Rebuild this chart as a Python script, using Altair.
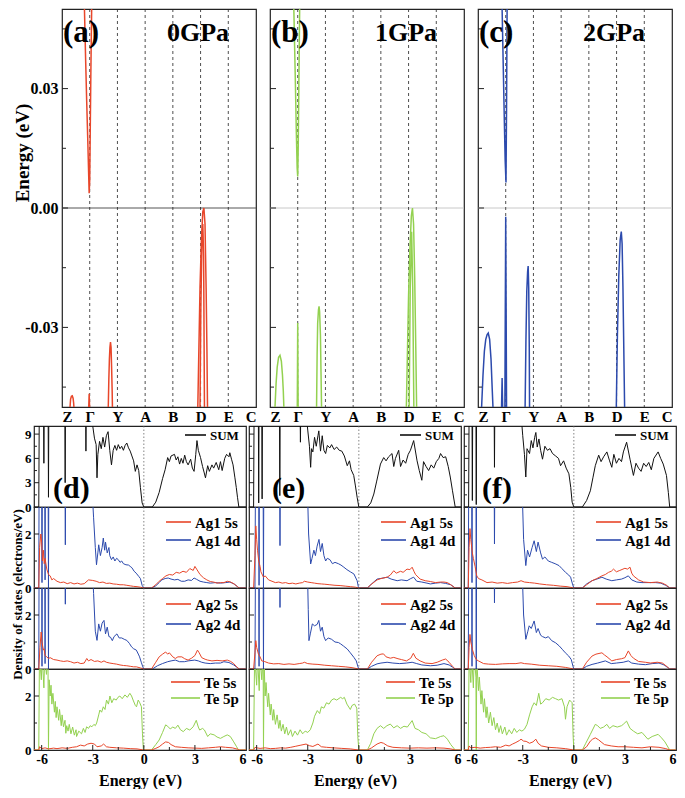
import json
import altair as alt
import pandas as pd

SERIF = "Liberation Serif"
RED = "#e8462a"
BLUE = "#2c4aad"
GREEN = "#93d150"
BLACK = "#111111"

K_LABELS = ["Z", "Γ", "Y", "A", "B", "D", "E", "C"]
PRESSURES = ["0GPa", "1GPa", "2GPa"]
BAND_TAGS = ["(a)", "(b)", "(c)"]
DOS_TAGS = ["(d)", "(e)", "(f)"]
BAND_COLORS = [RED, GREEN, BLUE]
ZERO_COLORS = ["#555555", "#c8c8c8", "#c8c8c8"]
E_TICKS = [-0.03, 0.0, 0.03]
E_MINOR = [-0.045, -0.015, 0.015, 0.045]

# ---- band segments: (k positions, energies) ----
BANDS_0GPA = [
    ([0.81, 0.85, 0.89, 0.93, 0.96, 0.98, 1.0, 1.02, 1.04, 1.07],
     [0.05, 0.038, 0.027, 0.017, 0.009, 0.0037, 0.007, 0.02, 0.033, 0.05]),
    ([4.90, 4.94, 4.98, 5.03, 5.08, 5.12, 5.16, 5.20, 5.23, 5.25],
     [-0.05, -0.035, -0.02, -0.008, -0.001, 0.0, -0.004, -0.02, -0.036, -0.05]),
    ([4.98, 5.01, 5.05, 5.08, 5.11, 5.14],
     [-0.05, -0.025, -0.008, -0.004, -0.012, -0.05]),
    ([1.67, 1.69, 1.71, 1.73, 1.75, 1.77, 1.79, 1.81, 1.82],
     [-0.05, -0.043, -0.038, -0.035, -0.0337, -0.035, -0.04, -0.046, -0.05]),
    ([0.29, 0.31, 0.34, 0.37, 0.40, 0.42, 0.43],
     [-0.05, -0.048, -0.0473, -0.0472, -0.0478, -0.049, -0.05]),
    ([0.965, 0.98, 0.995], [-0.05, -0.0467, -0.05]),
]
BANDS_1GPA = [
    ([0.86, 0.89, 0.92, 0.95, 0.98, 1.0, 1.02, 1.04, 1.07],
     [0.05, 0.04, 0.03, 0.019, 0.01, 0.0079, 0.016, 0.03, 0.05]),
    ([0.985, 1.0, 1.015], [-0.05, -0.0289, -0.05]),
    ([1.68, 1.70, 1.72, 1.75, 1.77, 1.79, 1.82, 1.84, 1.86],
     [-0.05, -0.037, -0.029, -0.0255, -0.0247, -0.026, -0.032, -0.041, -0.05]),
    ([0.18, 0.22, 0.26, 0.31, 0.36, 0.41, 0.45, 0.48, 0.5],
     [-0.05, -0.044, -0.04, -0.0375, -0.037, -0.0385, -0.042, -0.046, -0.05]),
    ([4.92, 4.96, 5.0, 5.05, 5.10, 5.14, 5.18, 5.22, 5.26, 5.29],
     [-0.05, -0.036, -0.022, -0.01, -0.002, 0.0, -0.004, -0.017, -0.035, -0.05]),
    ([5.02, 5.06, 5.11, 5.15, 5.19],
     [-0.05, -0.02, -0.006, -0.02, -0.05]),
]
BANDS_2GPA = [
    ([0.87, 0.91, 0.95, 0.98, 1.01, 1.03, 1.05],
     [0.05, 0.036, 0.022, 0.012, 0.0064, 0.025, 0.05]),
    ([0.97, 0.985, 1.0, 1.015, 1.03], [-0.05, -0.025, -0.0022, -0.025, -0.05]),
    ([0.85, 0.87, 0.89], [-0.05, -0.0427, -0.05]),
    ([1.70, 1.73, 1.76, 1.79, 1.81, 1.83, 1.85, 1.86],
     [-0.05, -0.033, -0.021, -0.016, -0.0146, -0.02, -0.035, -0.05]),
    ([0.13, 0.18, 0.23, 0.28, 0.33, 0.37, 0.42, 0.47, 0.51, 0.54],
     [-0.05, -0.042, -0.036, -0.033, -0.0318, -0.0314, -0.033, -0.038, -0.045, -0.05]),
    ([4.99, 5.03, 5.08, 5.13, 5.17, 5.20, 5.23, 5.26, 5.29],
     [-0.05, -0.032, -0.017, -0.008, -0.0059, -0.009, -0.02, -0.035, -0.05]),
]
BANDS = [BANDS_0GPA, BANDS_1GPA, BANDS_2GPA]

# ---- DOS series: (energy eV, states/eV) ----
SUM_D = [(-6.45,0),(-6.17,0),(-6.14,12),(-5.89,12),(-5.87,5.4),(-5.85,12),(-5.62,12),(-5.6,1.2),(-5.58,12),
         (-4.64,12),(-4.62,3.0),(-4.6,12),(-3.42,12),(-3.4,6.9),(-3.38,12),(-3.1,12),(-3.0,10.0),(-2.9,8.5),
         (-2.8,7.7),(-2.75,3.6),(-2.7,6.5),(-2.6,8.1),(-2.5,7.2),(-2.4,8.6),(-2.3,7.4),(-2.2,8.8),(-2.1,9.3),
         (-2.0,7.0),(-1.9,5.2),(-1.8,7.0),(-1.7,7.6),(-1.6,7.0),(-1.5,7.7),(-1.4,7.2),(-1.3,7.5),(-1.2,7.0),
         (-1.1,7.6),(-1.0,7.9),(-0.9,7.3),(-0.8,6.9),(-0.7,6.3),(-0.6,5.7),(-0.5,4.4),(-0.4,5.2),(-0.3,4.5),
         (-0.2,2.4),(-0.1,0.5),(0.0,0.0),(0.5,0.0),(0.7,0.6),(0.9,1.8),(1.1,3.5),(1.25,4.6),(1.4,6.1),(1.5,5.6),
         (1.6,6.3),(1.8,6.5),(1.9,5.8),(2.0,6.2),(2.1,5.3),(2.2,6.0),(2.3,5.4),(2.4,6.4),(2.5,5.6),(2.6,5.2),
         (2.75,5.9),(2.85,4.8),(2.95,4.4),(3.05,6.5),(3.12,8.2),(3.2,7.0),(3.33,6.1),(3.45,5.0),(3.55,4.2),
         (3.62,3.6),(3.75,5.1),(3.85,4.4),(4.0,5.2),(4.1,4.8),(4.25,5.5),(4.4,4.6),(4.5,5.6),(4.6,4.5),(4.75,6.0),
         (4.86,6.5),(5.0,6.2),(5.05,6.7),(5.15,5.9),(5.24,5.2),(5.35,3.6),(5.43,2.4),(5.5,1.2),(5.58,0),(6.0,0)]
AG1S_D = [(-6.45,0),(-6.17,0),(-6.12,1.5),(-6.05,2.0),(-6.0,1.7),(-5.95,1.0),(-5.9,1.4),(-5.85,0.9),(-5.8,1.1),
          (-5.7,0.7),(-5.6,0.5),(-5.5,0.45),(-5.4,0.3),(-5.3,0.35),(-5.1,0.25),(-4.9,0.2),(-4.7,0.22),(-4.5,0.16),
          (-4.3,0.2),(-4.1,0.15),(-3.9,0.18),(-3.7,0.14),(-3.5,0.16),(-3.25,0.3),(-3.0,0.28),(-2.8,0.25),(-2.6,0.2),
          (-2.4,0.22),(-2.2,0.17),(-2.0,0.18),(-1.8,0.15),(-1.6,0.14),(-1.4,0.12),(-1.2,0.12),(-1.0,0.1),(-0.8,0.08),
          (-0.6,0.06),(-0.4,0.05),(-0.2,0.03),(0.0,0.0),(0.45,0.0),(0.7,0.12),(0.9,0.25),(1.1,0.35),(1.3,0.45),
          (1.5,0.5),(1.7,0.48),(1.9,0.58),(2.1,0.55),(2.3,0.62),(2.5,0.58),(2.7,0.72),(2.9,0.65),(3.0,0.8),(3.1,0.7),
          (3.3,0.5),(3.5,0.38),(3.7,0.3),(3.9,0.24),(4.1,0.22),(4.3,0.18),(4.5,0.2),(4.7,0.2),(4.9,0.25),(5.1,0.22),
          (5.3,0.15),(5.5,0.05),(5.6,0.0),(6.0,0.0)]
AG1D_D = [(-6.45,0),(-6.17,0),(-6.15,4),(-6.0,4),(-5.98,0.2),(-5.96,4),(-5.82,4),(-5.8,0.3),(-5.78,4),(-5.62,4),
          (-5.6,0.0),(-5.58,4),(-4.63,4),(-4.61,1.6),(-4.59,4),(-3.07,4),(-2.95,2.6),(-2.85,1.5),(-2.78,0.86),
          (-2.7,1.3),(-2.65,1.6),(-2.55,1.2),(-2.45,1.5),(-2.38,1.85),(-2.3,1.4),(-2.25,1.7),(-2.15,1.3),(-2.05,1.5),
          (-2.0,1.2),(-1.9,1.05),(-1.8,1.15),(-1.7,1.0),(-1.6,1.1),(-1.5,1.05),(-1.4,0.95),(-1.3,1.0),(-1.2,0.9),
          (-1.05,0.86),(-0.9,0.85),(-0.8,0.8),(-0.7,0.75),(-0.57,0.62),(-0.45,0.55),(-0.3,0.43),(-0.2,0.35),
          (-0.1,0.1),(0.0,0.0),(0.45,0.0),(0.7,0.08),(0.9,0.2),(1.05,0.3),(1.25,0.35),(1.43,0.37),(1.6,0.33),
          (1.8,0.3),(2.0,0.32),(2.2,0.25),(2.4,0.25),(2.6,0.3),(2.8,0.28),(2.95,0.37),(3.1,0.32),(3.3,0.25),
          (3.5,0.22),(3.7,0.2),(3.9,0.18),(4.2,0.2),(4.5,0.18),(4.8,0.2),(5.05,0.22),(5.3,0.15),(5.5,0.05),
          (5.6,0.0),(6.0,0.0)]
AG2S_D = [(-6.45,0),(-6.17,0),(-6.1,0.8),(-6.03,1.37),(-5.98,1.0),(-5.9,0.7),(-5.86,0.75),(-5.8,0.5),(-5.7,0.45),
          (-5.6,0.39),(-5.5,0.42),(-5.3,0.35),(-5.1,0.33),(-4.9,0.3),(-4.7,0.28),(-4.5,0.3),(-4.3,0.27),(-4.1,0.22),
          (-3.9,0.25),(-3.7,0.2),(-3.5,0.22),(-3.35,0.39),(-3.25,0.3),(-3.1,0.35),(-2.9,0.28),(-2.7,0.3),(-2.5,0.25),
          (-2.34,0.3),(-2.2,0.25),(-2.0,0.22),(-1.8,0.2),(-1.6,0.18),(-1.4,0.15),(-1.2,0.13),(-1.0,0.12),(-0.8,0.1),
          (-0.6,0.08),(-0.44,0.08),(-0.2,0.04),(0.0,0.0),(0.45,0.0),(0.7,0.25),(0.9,0.45),(1.1,0.55),(1.28,0.63),
          (1.4,0.55),(1.5,0.6),(1.7,0.45),(1.85,0.39),(2.0,0.45),(2.23,0.45),(2.4,0.38),(2.6,0.33),(2.8,0.4),
          (3.0,0.5),(3.15,0.7),(3.25,0.6),(3.4,0.42),(3.6,0.36),(3.75,0.33),(4.0,0.3),(4.3,0.32),(4.6,0.3),
          (4.9,0.33),(5.1,0.28),(5.28,0.2),(5.45,0.08),(5.6,0.0),(6.0,0.0)]
AG2D_D = [(-6.45,0),(-6.17,0),(-6.15,4),(-6.0,4),(-5.98,0.1),(-5.96,4),(-5.82,4),(-5.8,0.2),(-5.78,4),(-5.62,4),
          (-5.6,0.0),(-5.58,4),(-4.63,4),(-4.61,2.4),(-4.59,4),(-3.05,4),(-2.95,2.8),(-2.85,1.4),(-2.75,1.06),
          (-2.65,1.67),(-2.55,1.4),(-2.45,1.7),(-2.34,1.8),(-2.25,1.3),(-2.15,1.55),(-2.05,1.2),(-1.96,1.18),
          (-1.85,1.05),(-1.75,1.2),(-1.58,1.3),(-1.45,1.15),(-1.3,1.15),(-1.15,1.1),(-1.0,1.06),(-0.85,0.95),
          (-0.72,0.82),(-0.6,0.75),(-0.44,0.7),(-0.3,0.52),(-0.25,0.45),(-0.15,0.25),(-0.06,0.08),(0.0,0.0),
          (0.5,0.0),(0.8,0.12),(1.09,0.2),(1.4,0.27),(1.6,0.3),(1.85,0.33),(2.1,0.27),(2.38,0.27),(2.6,0.3),
          (2.99,0.33),(3.2,0.3),(3.4,0.25),(3.6,0.22),(3.9,0.2),(4.2,0.22),(4.5,0.22),(4.7,0.27),(5.0,0.24),
          (5.28,0.15),(5.5,0.05),(5.6,0.0),(6.0,0.0)]
TE5S_D = [(-6.45,0),(-6.17,0),(-6.12,0.12),(-6.0,0.05),(-5.8,0.08),(-5.6,0.04),(-5.3,0.07),(-5.1,0.05),(-4.8,0.08),
          (-4.5,0.06),(-4.2,0.1),(-3.95,0.12),(-3.72,0.18),(-3.5,0.15),(-3.3,0.22),(-3.1,0.25),(-2.9,0.22),
          (-2.75,0.12),(-2.5,0.15),(-2.36,0.22),(-2.2,0.12),(-2.0,0.1),(-1.6,0.08),(-1.2,0.07),(-0.8,0.05),
          (-0.4,0.04),(0.0,0.0),(0.45,0.0),(0.7,0.06),(0.9,0.12),(1.1,0.22),(1.28,0.3),(1.45,0.28),(1.6,0.2),
          (1.85,0.12),(2.2,0.1),(2.6,0.08),(3.0,0.07),(3.4,0.06),(3.8,0.08),(4.2,0.1),(4.5,0.12),(4.8,0.1),
          (5.2,0.08),(5.5,0.03),(5.6,0.0),(6.0,0.0)]
TE5P_D = [(-6.45,0),(-6.17,0),(-6.13,3.5),(-6.02,2.6),(-5.97,3.5),(-5.87,2.3),(-5.82,3.5),(-5.72,2.8),(-5.63,3.5),
          (-5.6,0.0),(-5.56,2.6),(-5.5,2.0),(-5.45,2.4),(-5.4,1.7),(-5.34,2.1),(-5.25,1.4),(-5.2,1.8),(-5.15,1.2),
          (-5.1,1.6),(-5.0,1.1),(-4.95,1.5),(-4.85,0.9),(-4.8,1.3),(-4.72,0.86),(-4.63,1.1),(-4.58,0.62),
          (-4.53,0.9),(-4.45,0.7),(-4.38,0.95),(-4.28,0.6),(-4.18,0.85),(-4.08,0.55),(-3.98,0.75),(-3.95,0.5),
          (-3.82,0.7),(-3.66,0.6),(-3.55,0.8),(-3.45,0.65),(-3.36,0.86),(-3.25,0.8),(-3.15,0.9),(-3.05,0.86),
          (-2.93,0.95),(-2.85,0.9),(-2.77,1.0),(-2.65,1.3),(-2.58,1.48),(-2.48,1.4),(-2.38,1.6),(-2.28,1.5),
          (-2.19,1.85),(-2.08,1.7),(-1.99,2.0),(-1.88,1.75),(-1.77,1.9),(-1.62,1.85),(-1.52,1.95),(-1.41,2.0),
          (-1.27,1.9),(-1.11,2.04),(-0.97,1.95),(-0.82,2.1),(-0.72,2.0),(-0.63,1.85),(-0.5,1.65),(-0.43,1.6),
          (-0.33,1.85),(-0.24,1.75),(-0.14,1.6),(-0.08,0.6),(-0.03,0.05),(0.0,0.0),(0.45,0.0),(0.7,0.2),(0.9,0.37),
          (1.1,0.65),(1.28,0.93),(1.4,0.88),(1.55,0.78),(1.7,0.85),(1.85,0.8),(2.0,0.92),(2.15,0.75),(2.32,0.68),
          (2.5,0.8),(2.7,0.74),(2.9,0.86),(3.08,1.1),(3.2,0.85),(3.28,0.74),(3.45,0.8),(3.56,0.74),(3.75,0.5),
          (3.9,0.6),(4.13,0.56),(4.3,0.48),(4.5,0.43),(4.7,0.5),(4.9,0.56),(5.08,0.5),(5.28,0.3),(5.45,0.12),
          (5.56,0.0),(6.0,0.0)]

SUM_E = [(-6.45,0),(-6.18,0),(-6.15,12),(-5.9,12),(-5.88,0.5),(-5.86,12),(-5.7,12),(-5.68,1.0),(-5.66,12),
         (-4.66,12),(-4.64,1.4),(-4.62,12),(-3.45,12),(-3.43,8.0),(-3.41,12),(-3.12,12),(-3.0,9.5),(-2.9,7.5),
         (-2.83,4.9),(-2.78,7.2),(-2.7,6.8),(-2.6,8.6),(-2.5,7.5),(-2.4,8.8),(-2.35,9.4),(-2.25,6.9),(-2.15,8.8),
         (-2.05,7.0),(-1.95,6.6),(-1.85,7.6),(-1.7,7.3),(-1.6,7.7),(-1.45,7.1),(-1.3,7.4),(-1.15,7.0),(-1.0,6.9),
         (-0.85,6.3),(-0.68,5.1),(-0.55,5.7),(-0.45,4.6),(-0.3,3.9),(-0.2,2.6),(-0.1,1.2),(0.0,0.0),(0.5,0.0),
         (0.7,0.5),(0.88,1.6),(1.05,3.2),(1.27,5.3),(1.46,6.1),(1.6,5.7),(1.75,6.2),(1.95,6.6),(2.05,5.0),
         (2.15,6.0),(2.34,7.0),(2.45,5.0),(2.6,5.8),(2.75,5.4),(2.9,6.5),(3.03,7.0),(3.22,8.2),(3.42,5.7),
         (3.55,4.5),(3.7,3.3),(3.8,5.6),(3.95,5.0),(4.1,4.5),(4.25,5.2),(4.4,4.8),(4.55,5.6),(4.7,6.0),(4.8,6.6),
         (4.95,6.1),(5.1,6.2),(5.25,5.0),(5.37,3.7),(5.5,2.0),(5.66,0.0),(6.0,0.0)]
AG1S_E = [(-6.45,0),(-6.18,0),(-6.1,1.2),(-6.05,2.3),(-6.0,1.8),(-5.95,1.4),(-5.88,1.0),(-5.8,0.8),(-5.75,0.6),
          (-5.6,0.4),(-5.5,0.45),(-5.3,0.3),(-5.1,0.25),(-4.9,0.2),(-4.7,0.22),(-4.5,0.18),(-4.3,0.2),(-4.1,0.16),
          (-3.9,0.18),(-3.7,0.15),(-3.5,0.18),(-3.3,0.2),(-3.2,0.25),(-3.0,0.22),(-2.8,0.2),(-2.6,0.18),(-2.4,0.16),
          (-2.2,0.15),(-2.0,0.14),(-1.7,0.12),(-1.4,0.1),(-1.1,0.09),(-0.8,0.07),(-0.5,0.05),(-0.2,0.03),(0.0,0.0),
          (0.5,0.0),(0.7,0.12),(1.07,0.3),(1.3,0.35),(1.66,0.4),(1.85,0.48),(2.05,0.64),(2.2,0.55),(2.45,0.62),
          (2.6,0.58),(2.83,0.7),(3.0,0.68),(3.13,0.77),(3.25,0.6),(3.33,0.5),(3.6,0.33),(3.9,0.27),(4.2,0.24),
          (4.5,0.2),(4.8,0.22),(5.0,0.22),(5.2,0.2),(5.4,0.12),(5.66,0.0),(6.0,0.0)]
AG1D_E = [(-6.45,0),(-6.1,0),(-6.07,4),(-5.88,4),(-5.86,0.1),(-5.84,4),(-5.62,4),(-5.6,0.0),(-5.58,4),(-4.65,4),
          (-4.63,1.57),(-4.61,4),(-3.03,4),(-2.95,2.0),(-2.83,0.89),(-2.75,1.1),(-2.64,1.4),(-2.55,1.2),(-2.45,1.55),
          (-2.34,1.8),(-2.25,1.35),(-2.15,1.65),(-2.05,1.2),(-1.95,1.0),(-1.85,1.1),(-1.7,1.05),(-1.55,0.9),
          (-1.4,0.95),(-1.2,0.9),(-1.05,0.85),(-0.88,0.77),(-0.7,0.68),(-0.5,0.6),(-0.29,0.52),(-0.1,0.27),
          (-0.03,0.05),(0.0,0.0),(0.5,0.0),(0.75,0.15),(1.07,0.33),(1.35,0.36),(1.66,0.4),(1.9,0.33),(2.25,0.27),
          (2.5,0.3),(2.83,0.27),(3.05,0.35),(3.22,0.4),(3.4,0.25),(3.7,0.22),(4.0,0.18),(4.2,0.15),(4.5,0.18),
          (4.8,0.2),(5.1,0.17),(5.4,0.12),(5.66,0.0),(6.0,0.0)]
AG2S_E = [(-6.45,0),(-6.18,0),(-6.1,0.6),(-6.05,1.05),(-6.0,0.8),(-5.9,0.56),(-5.8,0.45),(-5.7,0.3),(-5.55,0.28),
          (-5.3,0.22),(-5.0,0.19),(-4.7,0.2),(-4.4,0.17),(-4.1,0.19),(-3.8,0.17),(-3.5,0.2),(-3.3,0.22),(-3.2,0.25),
          (-3.0,0.2),(-2.7,0.18),(-2.4,0.17),(-2.0,0.14),(-1.6,0.12),(-1.2,0.1),(-0.8,0.08),(-0.4,0.05),(0.0,0.0),
          (0.5,0.0),(0.75,0.25),(1.07,0.49),(1.3,0.55),(1.45,0.56),(1.6,0.45),(1.85,0.4),(2.05,0.43),(2.3,0.38),
          (2.5,0.35),(2.8,0.3),(3.05,0.4),(3.2,0.58),(3.35,0.4),(3.6,0.3),(3.9,0.22),(4.3,0.2),(4.6,0.25),
          (4.9,0.33),(5.1,0.37),(5.3,0.25),(5.5,0.1),(5.66,0.0),(6.0,0.0)]
AG2D_E = [(-6.45,0),(-6.1,0),(-6.07,4),(-5.88,4),(-5.86,0.1),(-5.84,4),(-5.62,4),(-5.6,0.0),(-5.58,4),(-4.65,4),
          (-4.63,2.28),(-4.61,4),(-3.03,4),(-2.97,2.2),(-2.93,1.05),(-2.85,1.3),(-2.73,1.67),(-2.6,1.6),
          (-2.45,1.65),(-2.35,1.8),(-2.25,1.4),(-2.15,1.55),(-2.05,1.2),(-1.95,1.05),(-1.8,1.15),(-1.6,1.1),
          (-1.4,1.0),(-1.2,0.98),(-1.07,0.93),(-0.9,0.85),(-0.68,0.74),(-0.5,0.6),(-0.29,0.43),(-0.15,0.3),
          (-0.05,0.08),(0.0,0.0),(0.5,0.0),(0.75,0.1),(1.07,0.19),(1.3,0.22),(1.66,0.25),(2.0,0.22),(2.4,0.2),
          (2.8,0.22),(3.13,0.25),(3.4,0.2),(3.7,0.15),(4.2,0.12),(4.6,0.14),(5.0,0.2),(5.3,0.15),(5.5,0.07),
          (5.66,0.0),(6.0,0.0)]
TE5S_E = [(-6.45,0),(-6.18,0),(-6.1,0.1),(-6.0,0.08),(-5.8,0.06),(-5.5,0.08),(-5.2,0.05),(-4.9,0.06),(-4.6,0.08),
          (-4.3,0.07),(-4.0,0.1),(-3.7,0.14),(-3.4,0.18),(-3.1,0.22),(-2.9,0.16),(-2.7,0.13),(-2.4,0.22),
          (-2.2,0.12),(-1.9,0.1),(-1.5,0.08),(-1.0,0.06),(-0.5,0.04),(0.0,0.0),(0.5,0.0),(0.75,0.08),(1.07,0.22),
          (1.3,0.28),(1.45,0.25),(1.7,0.15),(2.0,0.1),(2.5,0.08),(3.0,0.07),(3.5,0.08),(4.0,0.07),(4.5,0.08),
          (5.0,0.07),(5.4,0.04),(5.66,0.0),(6.0,0.0)]
TE5P_E = [(-6.45,0),(-6.18,0),(-6.12,3.5),(-6.0,2.4),(-5.95,3.5),(-5.85,2.2),(-5.8,3.5),(-5.7,2.6),(-5.62,3.5),
          (-5.6,0.0),(-5.56,3.2),(-5.5,2.0),(-5.45,2.5),(-5.35,1.6),(-5.3,2.1),(-5.2,1.3),(-5.15,1.7),(-5.05,1.1),
          (-5.0,1.5),(-4.9,0.95),(-4.8,1.3),(-4.7,0.8),(-4.63,1.1),(-4.55,0.7),(-4.45,0.95),(-4.35,0.6),
          (-4.25,0.85),(-4.15,0.55),(-4.0,0.75),(-3.9,0.5),(-3.75,0.7),(-3.6,0.55),(-3.45,0.75),(-3.3,0.6),
          (-3.15,0.7),(-3.0,0.65),(-2.85,0.75),(-2.7,1.0),(-2.6,1.25),(-2.44,1.46),(-2.3,1.35),(-2.2,1.6),
          (-2.05,1.55),(-1.9,1.75),(-1.75,1.7),(-1.6,1.85),(-1.46,1.9),(-1.3,1.85),(-1.07,1.95),(-0.95,1.9),
          (-0.85,1.95),(-0.7,1.7),(-0.5,1.5),(-0.4,1.65),(-0.25,1.7),(-0.12,1.55),(-0.06,0.5),(0.0,0.0),(0.5,0.0),
          (0.7,0.25),(0.88,0.6),(1.07,0.8),(1.27,0.9),(1.46,0.8),(1.65,0.9),(1.85,0.96),(2.05,0.82),(2.25,0.9),
          (2.45,0.8),(2.65,0.88),(2.85,0.85),(3.13,1.09),(3.3,0.8),(3.5,0.75),(3.7,0.65),(3.95,0.6),(4.2,0.45),
          (4.5,0.42),(4.8,0.5),(5.0,0.53),(5.2,0.4),(5.4,0.2),(5.66,0.0),(6.0,0.0)]

SUM_F = [(-6.45,0),(-6.18,0),(-6.15,12),(-5.98,12),(-5.96,0.8),(-5.94,12),(-5.75,12),(-5.73,0.3),(-5.71,12),
         (-4.68,12),(-4.66,4.9),(-4.64,12),(-3.12,12),(-3.0,8.8),(-2.9,6.5),(-2.82,3.7),(-2.75,7.2),(-2.6,6.6),
         (-2.5,8.2),(-2.4,7.3),(-2.3,8.6),(-2.23,9.2),(-2.15,7.4),(-2.05,8.4),(-1.95,7.0),(-1.84,5.9),(-1.7,7.5),
         (-1.55,7.0),(-1.4,7.2),(-1.25,6.6),(-1.07,6.3),(-0.9,6.0),(-0.78,5.1),(-0.6,5.7),(-0.45,4.8),
         (-0.29,4.1),(-0.18,2.4),(-0.1,0.6),(0.0,0.0),(0.5,0.0),(0.75,0.8),(0.97,2.0),(1.12,3.6),(1.26,5.1),
         (1.46,6.4),(1.6,5.6),(1.75,6.2),(1.94,6.8),(2.1,5.7),(2.23,4.9),(2.35,6.5),(2.5,5.4),(2.65,6.0),
         (2.8,5.6),(2.91,6.8),(3.1,8.0),(3.3,5.9),(3.5,3.9),(3.65,5.4),(3.8,4.8),(3.95,4.4),(4.1,5.4),(4.25,5.0),
         (4.4,5.5),(4.55,4.6),(4.7,6.0),(4.95,6.8),(5.1,6.0),(5.25,5.3),(5.44,3.9),(5.55,1.8),(5.63,0.0),(6.0,0.0)]
AG1S_F = [(-6.45,0),(-6.2,0),(-6.15,1.5),(-6.1,2.2),(-6.05,1.8),(-5.96,1.3),(-5.9,1.1),(-5.8,0.8),(-5.7,0.45),
          (-5.6,0.35),(-5.4,0.3),(-5.1,0.2),(-4.8,0.22),(-4.5,0.18),(-4.2,0.2),(-3.9,0.17),(-3.6,0.2),(-3.3,0.22),
          (-3.1,0.27),(-2.9,0.22),(-2.6,0.2),(-2.3,0.18),(-2.0,0.15),(-1.6,0.12),(-1.2,0.1),(-0.8,0.07),
          (-0.4,0.05),(0.0,0.0),(0.5,0.0),(0.75,0.12),(1.07,0.27),(1.35,0.35),(1.65,0.45),(1.85,0.5),(2.04,0.58),
          (2.2,0.62),(2.33,0.7),(2.5,0.6),(2.7,0.65),(3.0,0.73),(3.15,0.7),(3.3,0.77),(3.4,0.55),(3.5,0.45),
          (3.8,0.3),(4.1,0.22),(4.5,0.2),(4.9,0.22),(5.2,0.18),(5.45,0.1),(5.63,0.0),(6.0,0.0)]
AG1D_F = [(-6.45,0),(-6.2,0),(-6.17,4),(-6.0,4),(-5.98,0.2),(-5.96,4),(-5.75,4),(-5.73,0.0),(-5.71,4),(-4.68,4),
          (-4.66,1.63),(-4.64,4),(-3.05,4),(-2.95,1.8),(-2.82,0.83),(-2.72,1.4),(-2.6,1.15),(-2.45,1.5),
          (-2.33,1.75),(-2.2,1.35),(-2.1,1.7),(-1.95,1.3),(-1.84,1.07),(-1.7,1.15),(-1.5,1.0),(-1.3,0.95),
          (-1.1,0.9),(-0.87,0.83),(-0.7,0.72),(-0.49,0.58),(-0.3,0.48),(-0.19,0.4),(-0.08,0.15),(0.0,0.0),
          (0.5,0.0),(0.75,0.15),(1.07,0.27),(1.35,0.33),(1.65,0.4),(1.9,0.33),(2.23,0.27),(2.5,0.3),(2.8,0.33),
          (3.0,0.38),(3.2,0.45),(3.4,0.3),(3.7,0.22),(4.0,0.2),(4.4,0.2),(4.8,0.2),(5.1,0.18),(5.4,0.1),
          (5.63,0.0),(6.0,0.0)]
AG2S_F = [(-6.45,0),(-6.2,0),(-6.15,0.8),(-6.1,1.28),(-6.05,1.0),(-5.96,0.73),(-5.85,0.5),(-5.73,0.35),
          (-5.6,0.3),(-5.3,0.2),(-5.0,0.18),(-4.6,0.17),(-4.2,0.19),(-3.8,0.2),(-3.4,0.2),(-3.1,0.23),(-2.9,0.2),
          (-2.5,0.18),(-2.0,0.14),(-1.5,0.12),(-1.0,0.1),(-0.5,0.06),(0.0,0.0),(0.5,0.0),(0.75,0.25),(1.07,0.48),
          (1.3,0.55),(1.65,0.6),(1.8,0.52),(1.95,0.45),(2.23,0.3),(2.5,0.35),(2.8,0.38),(3.0,0.42),(3.2,0.67),
          (3.35,0.5),(3.5,0.4),(3.8,0.28),(4.2,0.25),(4.5,0.22),(4.9,0.25),(5.2,0.22),(5.45,0.1),(5.63,0.0),
          (6.0,0.0)]
AG2D_F = [(-6.45,0),(-6.2,0),(-6.17,4),(-6.0,4),(-5.98,0.1),(-5.96,4),(-5.75,4),(-5.73,0.0),(-5.71,4),(-4.68,4),
          (-4.66,2.45),(-4.64,4),(-3.05,4),(-2.95,2.0),(-2.82,1.1),(-2.7,1.4),(-2.62,1.6),(-2.5,1.5),(-2.33,1.78),
          (-2.2,1.35),(-2.1,1.5),(-1.95,1.25),(-1.84,1.2),(-1.65,1.15),(-1.5,1.2),(-1.3,1.05),(-1.07,0.97),
          (-0.85,0.85),(-0.68,0.73),(-0.5,0.6),(-0.3,0.48),(-0.15,0.35),(-0.05,0.1),(0.0,0.0),(0.5,0.0),
          (0.75,0.1),(1.07,0.17),(1.4,0.22),(1.85,0.3),(2.2,0.2),(2.5,0.22),(2.9,0.25),(3.2,0.3),(3.4,0.22),
          (3.8,0.18),(4.2,0.16),(4.6,0.2),(5.0,0.22),(5.3,0.15),(5.5,0.06),(5.63,0.0),(6.0,0.0)]
TE5S_F = [(-6.45,0),(-6.2,0),(-6.15,0.15),(-6.05,0.08),(-5.8,0.1),(-5.5,0.07),(-5.2,0.09),(-4.9,0.1),(-4.6,0.12),
          (-4.3,0.1),(-4.0,0.18),(-3.8,0.15),(-3.6,0.22),(-3.4,0.28),(-3.2,0.35),(-3.1,0.4),(-2.95,0.33),
          (-2.8,0.32),(-2.6,0.25),(-2.4,0.3),(-2.23,0.4),(-2.1,0.25),(-1.9,0.15),(-1.5,0.1),(-1.0,0.08),
          (-0.5,0.05),(0.0,0.0),(0.5,0.0),(0.75,0.12),(0.97,0.33),(1.1,0.4),(1.26,0.45),(1.45,0.38),(1.6,0.3),
          (1.8,0.2),(2.2,0.15),(2.6,0.12),(3.0,0.12),(3.5,0.1),(4.0,0.08),(4.5,0.12),(5.0,0.1),(5.4,0.05),
          (5.63,0.0),(6.0,0.0)]
TE5P_F = [(-6.45,0),(-6.2,0),(-6.15,3.5),(-6.05,2.5),(-6.0,3.5),(-5.9,2.3),(-5.85,3.5),(-5.75,2.7),(-5.73,0.0),
          (-5.7,3.3),(-5.6,2.2),(-5.55,2.7),(-5.45,1.7),(-5.4,2.2),(-5.3,1.4),(-5.25,1.9),(-5.15,1.2),(-5.1,1.6),
          (-5.0,1.0),(-4.9,1.4),(-4.8,0.9),(-4.7,1.2),(-4.6,0.75),(-4.5,1.0),(-4.4,0.65),(-4.3,0.9),(-4.2,0.6),
          (-4.05,0.85),(-3.95,0.55),(-3.8,0.75),(-3.65,0.6),(-3.5,0.8),(-3.35,0.65),(-3.2,0.75),(-3.05,0.7),
          (-2.9,0.77),(-2.75,0.95),(-2.6,1.3),(-2.45,1.6),(-2.33,1.75),(-2.2,1.65),(-2.06,2.1),(-1.95,1.7),
          (-1.84,1.75),(-1.65,1.9),(-1.45,1.85),(-1.25,1.95),(-1.07,1.9),(-0.9,1.85),(-0.7,1.9),(-0.55,1.6),
          (-0.49,1.14),(-0.4,1.6),(-0.25,1.85),(-0.1,1.75),(-0.04,0.5),(0.0,0.0),(0.5,0.0),(0.7,0.25),(0.97,0.58),
          (1.26,0.95),(1.4,0.9),(1.55,0.8),(1.75,0.85),(1.94,0.95),(2.1,0.8),(2.3,0.9),(2.55,0.85),(2.8,0.9),
          (2.9,0.95),(3.1,1.07),(3.3,0.8),(3.5,0.7),(3.75,0.6),(4.0,0.65),(4.35,0.4),(4.6,0.5),(4.95,0.58),
          (5.15,0.45),(5.35,0.3),(5.63,0.0),(6.0,0.0)]

DOS = [
    [[("SUM", BLACK, SUM_D)], [("Ag1 5s", RED, AG1S_D), ("Ag1 4d", BLUE, AG1D_D)],
     [("Ag2 5s", RED, AG2S_D), ("Ag2 4d", BLUE, AG2D_D)], [("Te 5s", RED, TE5S_D), ("Te 5p", GREEN, TE5P_D)]],
    [[("SUM", BLACK, SUM_E)], [("Ag1 5s", RED, AG1S_E), ("Ag1 4d", BLUE, AG1D_E)],
     [("Ag2 5s", RED, AG2S_E), ("Ag2 4d", BLUE, AG2D_E)], [("Te 5s", RED, TE5S_E), ("Te 5p", GREEN, TE5P_E)]],
    [[("SUM", BLACK, SUM_F)], [("Ag1 5s", RED, AG1S_F), ("Ag1 4d", BLUE, AG1D_F)],
     [("Ag2 5s", RED, AG2S_F), ("Ag2 4d", BLUE, AG2D_F)], [("Te 5s", RED, TE5S_F), ("Te 5p", GREEN, TE5P_F)]],
]
DOS_YMAX = [10, 3, 3, 3]
DOS_YLABELS = [[0, 3, 6, 9], [0, 2], [0, 2], [0, 2]]
DOS_YMAJOR = [[3, 6, 9], [2], [2], [2]]
DOS_YMINOR = [[1.5, 4.5, 7.5], [1], [1], [1]]
DOS_XLABELS = [-6, -3, 0, 3, 6]
DOS_XMAJOR = [-6, -3, 0, 3]
DOS_XMINOR = [-4.5, -1.5, 1.5, 4.5]

# ---- layout / style ----
BW, BH = 194, 398
DW, DH = 212, 81
SPACER_W = 14
BAND_GAP = 14
LEG_Y = [[9], [15, 33], [16, 36], [13, 29]]
LEG_X = [(151, 172, 176, 13), (132, 157, 161, 15), (132, 157, 161, 15), (137, 166, 170, 15)]
DOS_TAG_X = [19, 23, 18]
E_SCALE = alt.Scale(domain=[-0.05, 0.05], nice=False, zero=False)


def one(**kw):
    return pd.DataFrame({k: [v] for k, v in kw.items()})


def band_axis_column():
    Y = alt.Y("E:Q", scale=E_SCALE, axis=alt.Axis(
        orient="right", values=E_TICKS, labelExpr="replace(format(datum.value, '.2f'), '\u2212', '-')",
        labelAlign="right", labelPadding=10, tickSize=0, ticks=False, domain=False, grid=False,
        title=None, labelFont=SERIF, labelFontSize=16, labelFontWeight="bold", labelColor="black"))
    pts = alt.Chart(pd.DataFrame({"E": E_TICKS})).mark_point(opacity=0).encode(y=Y)
    title = alt.Chart(one(t="Energy (eV)")).mark_text(
        angle=270, font=SERIF, fontSize=19, fontWeight="bold", align="center", baseline="middle",
        color="black").encode(text="t:N", x=alt.value(-11), y=alt.value(144))
    return alt.layer(pts, title).properties(width=SPACER_W, height=BH,
                                            view=alt.ViewBackground(strokeOpacity=0))


def band_panel(i):
    rows = []
    for s, (ks, es) in enumerate(BANDS[i]):
        for j, (k, e) in enumerate(zip(ks, es)):
            rows.append(dict(k=k, E=e, seg=s, o=j))
    df = pd.DataFrame(rows)
    xsc = alt.Scale(domain=[0, 7], nice=False, zero=False)
    xax = alt.Axis(values=list(range(8)),
                   labelExpr=json.dumps(K_LABELS, ensure_ascii=False) + "[datum.value]",
                   ticks=False, domain=False, grid=False, title=None, labelFont=SERIF,
                   labelFontSize=15, labelFontWeight="bold", labelColor="black",
                   labelPadding=2, labelAngle=0)
    X = alt.X("k:Q", scale=xsc, axis=xax)
    Y = alt.Y("E:Q", scale=E_SCALE, axis=None)
    layers = [
        alt.Chart(one(E=0.0)).mark_rule(color=ZERO_COLORS[i], strokeWidth=1).encode(y=Y),
        alt.Chart(pd.DataFrame({"k": list(range(1, 7))})).mark_rule(
            color="#222", strokeDash=[3, 3], strokeWidth=0.8).encode(x=X),
        alt.Chart(df).mark_line(color=BAND_COLORS[i], strokeWidth=1.5, clip=True).encode(
            x=X, y=Y, detail="seg:N", order="o:Q"),
        alt.Chart(pd.DataFrame({"E": E_TICKS})).mark_rule(color="#222", strokeWidth=1).encode(
            y=Y, x=alt.value(0), x2=alt.value(6)),
        alt.Chart(pd.DataFrame({"E": E_MINOR})).mark_rule(color="#222", strokeWidth=1).encode(
            y=Y, x=alt.value(0), x2=alt.value(4)),
        alt.Chart(one(t=BAND_TAGS[i])).mark_text(
            font=SERIF, fontSize=31, fontWeight="bold", align="left", baseline="alphabetic",
            color="black").encode(text="t:N", x=alt.value(1), y=alt.value(33)),
        alt.Chart(one(t=PRESSURES[i])).mark_text(
            font=SERIF, fontSize=26, fontWeight="bold", align="center", baseline="alphabetic",
            color="black").encode(text="t:N", x=alt.value(136), y=alt.value(32)),
    ]
    return alt.layer(*layers).properties(width=BW, height=BH)


def dos_panel(c, r):
    series = DOS[c][r]
    xsc = alt.Scale(domain=[-6.45, 6], nice=False, zero=False)
    ysc = alt.Scale(domain=[0, DOS_YMAX[r]], nice=False, zero=False)
    if r == 3:
        xax = alt.Axis(values=DOS_XLABELS, labelExpr="'' + datum.value", ticks=False, domain=False,
                       grid=False, title="Energy (eV)", titleFont=SERIF, titleFontSize=16,
                       titleFontWeight="bold", titleColor="black", titlePadding=6, labelFont=SERIF,
                       labelFontSize=14, labelFontWeight="bold", labelColor="black", labelPadding=2)
    else:
        xax = None
    if c == 0:
        kw = dict(values=DOS_YLABELS[r], labelExpr="'' + datum.value", ticks=False, domain=False,
                  grid=False, labelFont=SERIF, labelFontSize=13, labelFontWeight="bold",
                  labelColor="black", labelPadding=3)
        if r == 1:
            kw.update(title="Density of states (electrons/eV)", titleFont=SERIF, titleFontSize=13,
                      titleFontWeight="bold", titleColor="black", titleY=87, titlePadding=0)
        else:
            kw.update(title=None)
        yax = alt.Axis(**kw)
    else:
        yax = None
    X = alt.X("E:Q", scale=xsc, axis=xax)
    Y = alt.Y("D:Q", scale=ysc, axis=yax)
    layers = [
        alt.Chart(one(E=0.0)).mark_rule(color="#666", strokeDash=[1.5, 2], strokeWidth=0.8).encode(x=X),
    ]
    for lab, col, data in reversed(series):
        df = pd.DataFrame({"E": [p[0] for p in data], "D": [p[1] for p in data],
                           "o": list(range(len(data)))})
        layers.append(alt.Chart(df).mark_line(color=col, strokeWidth=1.0, clip=True).encode(
            x=X, y=Y, order="o:Q"))
    layers.append(alt.Chart(pd.DataFrame({"D": DOS_YMAJOR[r]})).mark_rule(
        color="#222", strokeWidth=1).encode(y=Y, x=alt.value(0), x2=alt.value(5)))
    layers.append(alt.Chart(pd.DataFrame({"D": DOS_YMINOR[r]})).mark_rule(
        color="#222", strokeWidth=1).encode(y=Y, x=alt.value(0), x2=alt.value(3)))
    if r == 3:
        layers.append(alt.Chart(pd.DataFrame({"E": DOS_XMAJOR})).mark_rule(
            color="#222", strokeWidth=1).encode(x=X, y=alt.value(DH), y2=alt.value(DH - 5)))
        layers.append(alt.Chart(pd.DataFrame({"E": DOS_XMINOR})).mark_rule(
            color="#222", strokeWidth=1).encode(x=X, y=alt.value(DH), y2=alt.value(DH - 3)))
    lx0, lx1, tx, fs = LEG_X[r]
    for m, (lab, col, data) in enumerate(series):
        yy = LEG_Y[r][m]
        layers.append(alt.Chart(one(t=lab)).mark_rule(color=col, strokeWidth=1.6).encode(
            x=alt.value(lx0), x2=alt.value(lx1), y=alt.value(yy)))
        layers.append(alt.Chart(one(t=lab)).mark_text(
            font=SERIF, fontSize=fs, fontWeight="bold", align="left", baseline="middle",
            color="black").encode(text="t:N", x=alt.value(tx), y=alt.value(yy + 1)))
    if r == 0:
        layers.append(alt.Chart(one(t=DOS_TAGS[c])).mark_text(
            font=SERIF, fontSize=30, fontWeight="bold", align="left", baseline="alphabetic",
            color="black").encode(text="t:N", x=alt.value(DOS_TAG_X[c]), y=alt.value(72)))
    return alt.layer(*layers).properties(width=DW, height=DH)


top = alt.hconcat(band_axis_column(), *[band_panel(i) for i in range(3)],
                  spacing=BAND_GAP, bounds="flush")
cols = [alt.vconcat(*[dos_panel(c, r) for r in range(4)], spacing=0, bounds="flush") for c in range(3)]
bottom = alt.hconcat(*cols, spacing=0)
chart = alt.vconcat(top, bottom, spacing=0).properties(
    padding={"left": 2, "top": 0, "right": 0, "bottom": 0}
).configure_view(stroke="#222", strokeWidth=1.2)

chart.save("out.html", embed_options={"renderer": "svg", "actions": False})
